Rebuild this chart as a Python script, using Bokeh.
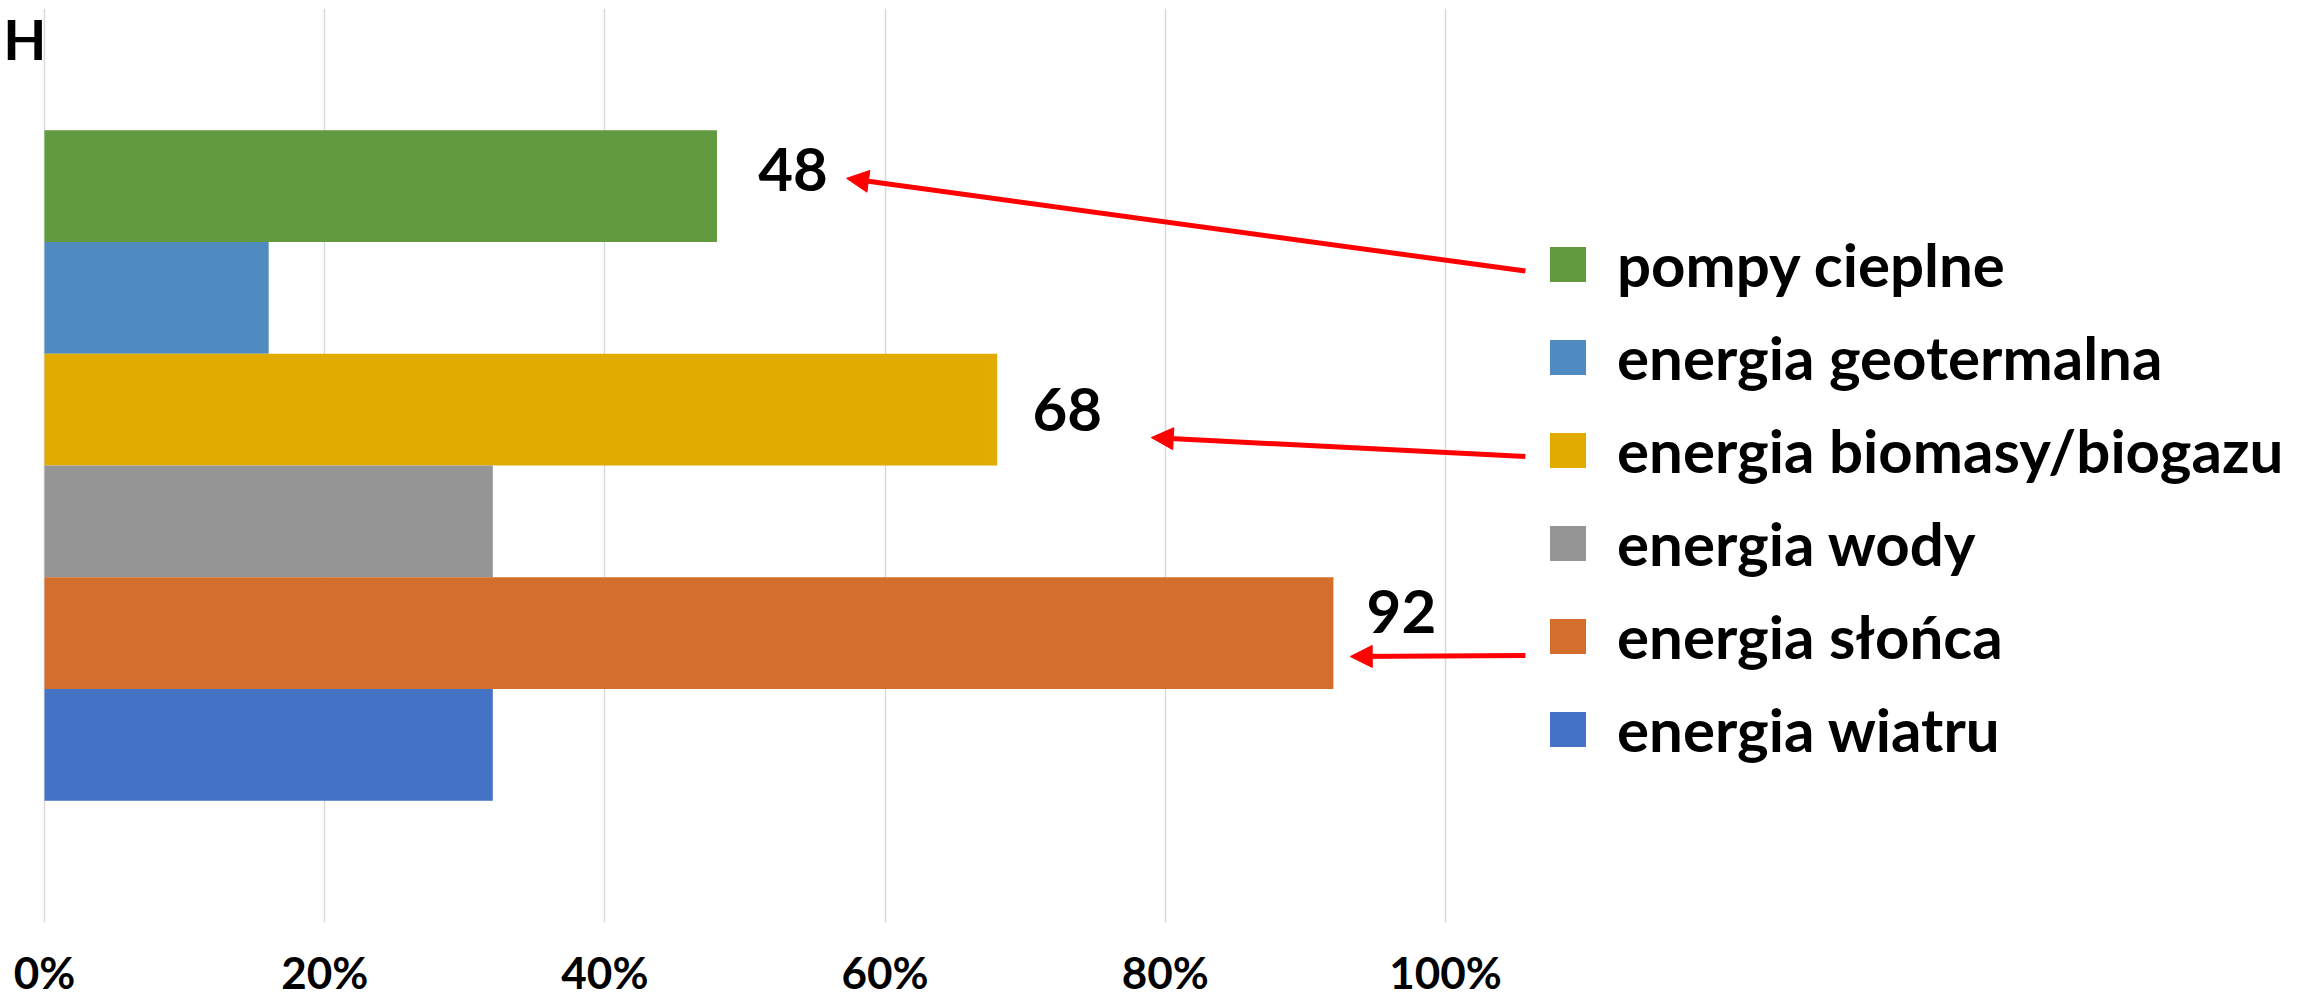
from bokeh.plotting import figure
from bokeh.models import (Range1d, FixedTicker, Legend, LegendItem, Arrow,
                          NormalHead, ColumnDataSource)
from bokeh.embed import file_html
from bokeh.resources import INLINE
from bokeh.core.properties import value

# ---- data ----
series = ["pompy cieplne", "energia geotermalna", "energia biomasy/biogazu",
          "energia wody", "energia słońca", "energia wiatru"]
values = [48, 16, 68, 32, 92, 32]
colors = ["#629B3F", "#4F8BC0", "#E1AB00", "#959595", "#D36E2D", "#4472C4"]
ticks = [0, 20, 40, 60, 80, 100]
tick_labels = ["0%", "20%", "40%", "60%", "80%", "100%"]
annotated = ["pompy cieplne", "energia biomasy/biogazu", "energia słońca"]

# ---- layout constants ----
W, H = 2315, 1000
PX_PER_PCT = 14.01
X0_PX = 44
BAR_H = 1.0
GAP = 1.09
FONT = "Lato"

n = len(series)
pos = [n - 1 - i for i in range(n)]

p = figure(width=W, height=H, output_backend="svg", toolbar_location=None,
           x_range=Range1d(-X0_PX / PX_PER_PCT, (W - X0_PX) / PX_PER_PCT),
           y_range=Range1d(-BAR_H / 2 - GAP, n - 1 + BAR_H / 2 + GAP),
           y_axis_location=None, min_border_left=0, min_border_right=0,
           min_border_top=8, min_border_bottom=0)
p.outline_line_color = None
p.background_fill_color = "white"
p.ygrid.visible = False
p.xgrid.ticker = FixedTicker(ticks=ticks)
p.xgrid.grid_line_color = "#D9D9D9"
p.xgrid.grid_line_width = 1.5

ax = p.xaxis[0]
ax.ticker = FixedTicker(ticks=ticks)
ax.major_label_overrides = {t: l for t, l in zip(ticks, tick_labels)}
ax.axis_line_color = None
ax.major_tick_line_color = None
ax.minor_tick_line_color = None
ax.major_tick_out = 0
ax.major_tick_in = 0
ax.minor_tick_out = 0
ax.major_label_standoff = 23
ax.major_label_text_font = FONT
ax.major_label_text_font_style = "bold"
ax.major_label_text_font_size = "44px"
ax.major_label_text_color = "black"

items = []
for s, v, c, y in zip(series, values, colors, pos):
    r = p.hbar(y=y, left=0, right=v, height=BAR_H, fill_color=c, line_color=None)
    items.append(LegendItem(label=s, renderers=[r]))

legend = Legend(items=items, location=(1545, 157))
legend.glyph_width = 45
legend.glyph_height = 44
legend.label_standoff = 27
legend.label_text_font = FONT
legend.label_text_font_style = "bold"
legend.label_text_font_size = "60px"
legend.label_text_color = "black"
legend.spacing = 21
legend.padding = 0
legend.margin = 0
legend.border_line_color = None
legend.background_fill_alpha = 0
p.add_layout(legend)

# value labels with arrows
lab_x_off = [76, 70, 68]
lab_y_off = [-17, 0, -22]
idx = [series.index(a) for a in annotated]
src = ColumnDataSource(dict(
    x=[values[i] for i in idx], y=[pos[i] for i in idx],
    text=[str(values[i]) for i in idx],
    xo=lab_x_off, yo=lab_y_off))
p.text(x="x", y="y", text="text", x_offset="xo", y_offset="yo", source=src,
       text_font=value(FONT), text_font_style="bold", text_font_size="60px",
       text_align="center", text_baseline="middle", text_color="black")

arrow_start = [(105.7, 4.24), (105.7, 2.58), (105.7, 0.80)]
arrow_end = [(57.25, 5.07), (79.0, 2.75), (93.2, 0.79)]
for (xs, ys), (xe, ye) in zip(arrow_start, arrow_end):
    p.add_layout(Arrow(x_start=xs, y_start=ys, x_end=xe, y_end=ye,
                       line_color="#FF0000", line_width=5,
                       end=NormalHead(size=22, fill_color="#FF0000",
                                      line_color="#FF0000", line_width=1)))

# heading letter at top-left
p.text(x=[-2.95], y=[6.32], text=["H"], text_font=value(FONT),
       text_font_style="bold", text_font_size="56px", text_align="left",
       text_baseline="middle", text_color="black")

open("out.html", "w").write(file_html(p, INLINE))
